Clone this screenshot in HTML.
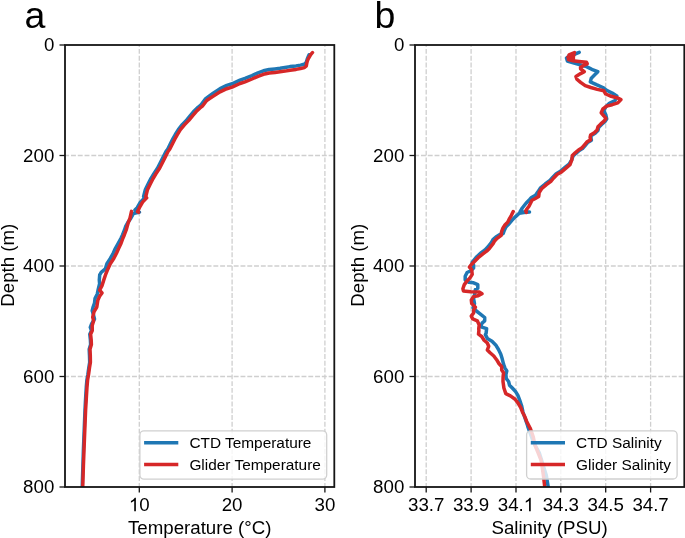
<!DOCTYPE html>
<html><head><meta charset="utf-8"><style>
html,body{margin:0;padding:0;background:#fff;}
svg{display:block;will-change:transform;}
text{font-family:"Liberation Sans",sans-serif;fill:#000;}
</style></head><body>
<svg width="685" height="538" viewBox="0 0 685 538">
<defs>
<clipPath id="ca"><rect x="65" y="45" width="269.3" height="442"/></clipPath>
<clipPath id="cb"><rect x="415" y="45" width="269.3" height="442"/></clipPath>
</defs>
<rect width="685" height="538" fill="#fff"/>
<text x="24.6" y="27.5" font-size="37.5">a</text>
<text x="374.6" y="27.6" font-size="37.5">b</text>
<line x1="139.3" y1="487" x2="139.3" y2="45" stroke="#cfcfcf" stroke-width="1.3" stroke-dasharray="4.9 1.88" stroke-dashoffset="0.78"/>
<line x1="232.1" y1="487" x2="232.1" y2="45" stroke="#cfcfcf" stroke-width="1.3" stroke-dasharray="4.9 1.88" stroke-dashoffset="0.78"/>
<line x1="324.9" y1="487" x2="324.9" y2="45" stroke="#cfcfcf" stroke-width="1.3" stroke-dasharray="4.9 1.88" stroke-dashoffset="0.78"/>
<line x1="65" y1="155.5" x2="334.3" y2="155.5" stroke="#cfcfcf" stroke-width="1.3" stroke-dasharray="4.9 1.88" stroke-dashoffset="0.78"/>
<line x1="65" y1="266.0" x2="334.3" y2="266.0" stroke="#cfcfcf" stroke-width="1.3" stroke-dasharray="4.9 1.88" stroke-dashoffset="0.78"/>
<line x1="65" y1="376.5" x2="334.3" y2="376.5" stroke="#cfcfcf" stroke-width="1.3" stroke-dasharray="4.9 1.88" stroke-dashoffset="0.78"/>
<polyline points="309.1,54.7 308.1,57.0 307.2,59.2 306.5,61.5 305.8,63.0 304.0,64.3 300.5,65.1 296.0,65.9 290.0,66.6 285.0,67.5 280.0,68.3 275.0,68.9 269.2,69.5 263.4,70.8 258.0,72.8 252.0,75.6 245.0,78.4 240.0,80.1 232.1,83.8 226.8,85.4 220.1,88.6 213.2,93.2 209.4,95.9 205.7,98.6 200.7,105.2 198.0,107.3 194.2,111.0 190.5,115.3 186.8,119.9 182.2,124.6 178.5,129.3 175.3,134.5 173.0,138.6 170.6,143.4 167.8,149.0 166.1,151.2 163.3,156.8 160.4,162.5 157.6,168.0 153.9,173.6 151.0,178.4 148.2,183.9 145.4,189.5 143.6,196.5 144.5,197.9 140.4,202.1 137.2,207.7 135.0,210.0 139.4,212.3 136.5,212.8 133.5,213.5 130.7,218.5 127.8,222.5 125.8,226.0 124.5,230.0 122.5,235.0 121.1,238.0 118.1,243.5 115.3,248.5 113.3,253.0 110.5,258.2 106.9,263.8 105.3,268.9 101.2,272.3 99.7,274.9 99.3,280.1 99.6,283.7 98.2,289.3 97.3,293.9 95.0,298.6 94.5,303.2 93.1,307.0 92.2,310.7 93.6,315.3 94.5,319.0 91.7,323.7 90.3,327.4 91.5,330.6 89.8,334.3 90.4,339.9 90.6,344.5 89.2,349.2 89.5,355.7 89.7,362.2 88.8,367.8 87.9,374.3 86.9,380.0 86.3,387.0 85.8,395.0 85.4,402.0 85.0,410.0 84.4,425.0 83.8,440.0 83.4,450.0 82.9,466.0 82.2,487.5" fill="none" stroke="#1f77b4" stroke-width="3.5" stroke-linejoin="round" stroke-linecap="round" clip-path="url(#ca)"/>
<polyline points="312.5,52.5 310.7,54.7 309.4,56.9 308.1,59.2 307.2,61.4 306.7,63.6 306.3,65.9 304.5,67.6 300.5,68.5 296.0,69.4 290.0,70.2 285.0,71.1 280.0,71.8 275.0,72.4 269.2,73.0 263.4,74.3 258.0,76.3 252.0,79.0 245.0,81.8 240.0,83.5 232.1,87.1 226.8,88.7 220.1,91.8 213.4,96.1 210.0,98.3 206.7,100.5 202.7,105.8 200.0,107.9 196.2,111.6 192.5,115.8 188.8,120.4 184.2,125.1 180.4,129.7 177.2,134.9 174.9,139.0 172.5,143.7 169.7,149.3 168.0,151.5 165.2,157.1 162.4,162.7 159.6,168.2 155.9,173.8 153.1,178.5 150.3,184.0 147.5,189.6 145.8,196.5 146.7,197.9 142.6,202.1 139.4,207.7 137.5,211.8 138.5,212.3" fill="none" stroke="#d62728" stroke-width="3.5" stroke-linejoin="round" stroke-linecap="round" clip-path="url(#ca)"/>
<polyline points="131.5,211.4 130.6,215.5 129.9,218.5 128.3,222.5 127.3,226.0 126.2,230.0 124.3,235.0 123.0,238.0 121.0,243.5 118.6,248.5 116.6,253.0 113.9,258.2 110.3,263.8 107.7,269.4 105.8,274.0 103.9,279.6 102.0,285.6 99.6,290.2 102.0,293.0 99.6,296.3 97.8,300.4 96.8,307.0 94.1,311.6 92.7,317.2 93.6,320.9 92.2,325.5 92.3,330.6 90.6,334.3 91.2,339.9 91.4,344.5 90.0,349.2 90.3,355.7 90.4,362.2 89.5,367.8 88.6,374.3 87.6,380.0 87.0,387.0 86.5,395.0 86.1,402.0 85.6,410.0 85.0,425.0 84.4,440.0 84.0,450.0 83.4,466.0 82.7,487.5" fill="none" stroke="#d62728" stroke-width="3.5" stroke-linejoin="round" stroke-linecap="round" clip-path="url(#ca)"/>
<rect x="139.9" y="430.9" width="186.8" height="48.2" rx="4" ry="4" fill="#ffffff" fill-opacity="0.8" stroke="#d0d0d0" stroke-width="1.3"/>
<line x1="144.1" y1="442.8" x2="178.3" y2="442.8" stroke="#1f77b4" stroke-width="3.5"/>
<text x="189.4" y="448.3" font-size="15.4">CTD Temperature</text>
<line x1="144.1" y1="464.5" x2="178.3" y2="464.5" stroke="#d62728" stroke-width="3.5"/>
<text x="189.4" y="470.0" font-size="15.4">Glider Temperature</text>
<rect x="65" y="45" width="269.3" height="442" fill="none" stroke="#151515" stroke-width="1.8"/>
<line x1="139.3" y1="487" x2="139.3" y2="492.5" stroke="#151515" stroke-width="1.3"/>
<path d="M135.87,511.20 L134.23,511.20 L134.23,500.73 C133.83,501.10 133.31,501.48 132.67,501.85 C132.03,502.23 131.45,502.51 130.94,502.70 L130.94,501.11 C131.86,500.68 132.66,500.16 133.34,499.54 C134.03,498.93 134.51,498.34 134.80,497.77 L135.87,497.77 Z" fill="#000"/>
<text x="139.30" y="511.2" font-size="18.7">0</text>
<line x1="232.1" y1="487" x2="232.1" y2="492.5" stroke="#151515" stroke-width="1.3"/>
<text x="221.70" y="511.2" font-size="18.7">20</text>
<line x1="324.9" y1="487" x2="324.9" y2="492.5" stroke="#151515" stroke-width="1.3"/>
<text x="314.50" y="511.2" font-size="18.7">30</text>
<line x1="59.5" y1="45.0" x2="65" y2="45.0" stroke="#151515" stroke-width="1.3"/>
<text x="54.3" y="51.1" font-size="18.7" text-anchor="end">0</text>
<line x1="59.5" y1="155.5" x2="65" y2="155.5" stroke="#151515" stroke-width="1.3"/>
<text x="54.3" y="161.6" font-size="18.7" text-anchor="end">200</text>
<line x1="59.5" y1="266.0" x2="65" y2="266.0" stroke="#151515" stroke-width="1.3"/>
<text x="54.3" y="272.1" font-size="18.7" text-anchor="end">400</text>
<line x1="59.5" y1="376.5" x2="65" y2="376.5" stroke="#151515" stroke-width="1.3"/>
<text x="54.3" y="382.6" font-size="18.7" text-anchor="end">600</text>
<line x1="59.5" y1="487.0" x2="65" y2="487.0" stroke="#151515" stroke-width="1.3"/>
<text x="54.3" y="493.1" font-size="18.7" text-anchor="end">800</text>
<line x1="426.2" y1="487" x2="426.2" y2="45" stroke="#cfcfcf" stroke-width="1.3" stroke-dasharray="4.9 1.88" stroke-dashoffset="0.78"/>
<line x1="471.1" y1="487" x2="471.1" y2="45" stroke="#cfcfcf" stroke-width="1.3" stroke-dasharray="4.9 1.88" stroke-dashoffset="0.78"/>
<line x1="516.0" y1="487" x2="516.0" y2="45" stroke="#cfcfcf" stroke-width="1.3" stroke-dasharray="4.9 1.88" stroke-dashoffset="0.78"/>
<line x1="560.8" y1="487" x2="560.8" y2="45" stroke="#cfcfcf" stroke-width="1.3" stroke-dasharray="4.9 1.88" stroke-dashoffset="0.78"/>
<line x1="605.7" y1="487" x2="605.7" y2="45" stroke="#cfcfcf" stroke-width="1.3" stroke-dasharray="4.9 1.88" stroke-dashoffset="0.78"/>
<line x1="650.6" y1="487" x2="650.6" y2="45" stroke="#cfcfcf" stroke-width="1.3" stroke-dasharray="4.9 1.88" stroke-dashoffset="0.78"/>
<line x1="415" y1="155.5" x2="684.3" y2="155.5" stroke="#cfcfcf" stroke-width="1.3" stroke-dasharray="4.9 1.88" stroke-dashoffset="0.78"/>
<line x1="415" y1="266.0" x2="684.3" y2="266.0" stroke="#cfcfcf" stroke-width="1.3" stroke-dasharray="4.9 1.88" stroke-dashoffset="0.78"/>
<line x1="415" y1="376.5" x2="684.3" y2="376.5" stroke="#cfcfcf" stroke-width="1.3" stroke-dasharray="4.9 1.88" stroke-dashoffset="0.78"/>
<polyline points="579.2,52.4 575.0,54.0 569.5,55.5 566.5,58.0 567.4,61.0 572.4,62.6 577.6,64.1 581.8,65.2 585.4,66.2 590.0,68.3 591.7,69.4 597.8,71.7 594.5,75.0 591.3,78.2 590.3,81.9 596.4,84.7 602.9,87.5 606.6,90.3 612.2,93.1 616.8,95.9 615.0,100.5 609.4,103.3 605.7,107.0 603.8,110.8 605.7,114.5 606.7,118.9 604.8,121.7 601.6,124.4 598.8,127.2 597.9,130.5 595.1,133.3 591.4,135.6 590.9,137.9 591.4,140.2 587.6,142.6 584.9,145.8 582.5,148.6 579.3,150.5 576.0,153.3 573.1,155.9 571.7,159.8 569.1,164.1 564.7,167.7 560.4,171.3 556.2,173.7 552.6,177.4 550.0,180.4 545.2,184.0 540.3,188.2 537.9,191.9 535.5,195.2 531.5,197.5 529.7,199.5 526.0,203.2 522.3,208.0 520.1,211.7 524.5,211.9 529.5,211.9 524.0,212.6 519.3,213.2 515.6,216.6 511.9,220.3 508.9,224.0 505.9,227.0 504.5,230.0 503.2,233.5 499.9,234.5 495.9,237.0 493.0,239.6 491.5,242.4 487.8,247.1 485.0,249.9 481.3,252.6 476.8,256.7 472.2,262.3 473.6,265.1 473.6,267.9 470.8,270.7 467.1,272.5 465.2,276.2 465.2,280.0 468.9,282.3 473.6,282.8 477.8,284.6 477.8,288.3 475.4,289.6 474.5,295.2 473.6,298.9 474.5,303.6 473.1,307.8 476.4,311.0 480.1,313.8 484.7,317.5 484.7,320.8 482.0,323.1 481.0,326.8 486.6,328.7 486.1,333.3 485.4,334.6 487.3,338.4 492.0,341.2 495.7,344.9 498.5,349.5 500.8,354.2 502.2,358.8 503.6,364.4 505.0,368.1 506.8,370.9 505.9,374.6 506.3,378.7 508.6,381.5 509.5,385.2 512.3,388.0 515.6,391.7 517.9,395.4 519.7,400.1 521.6,405.7 523.0,412.2 524.9,417.8 527.2,424.3 528.1,427.5 533.7,442.9 539.2,452.6 542.7,463.7 546.2,474.9 548.3,487.5" fill="none" stroke="#1f77b4" stroke-width="3.5" stroke-linejoin="round" stroke-linecap="round" clip-path="url(#cb)"/>
<polyline points="574.5,52.6 569.0,54.8 574.0,55.4 567.9,57.2 573.5,58.0 568.3,59.6 573.0,60.8 579.0,61.4 586.5,62.3 587.3,63.8 583.5,65.5 580.5,67.5 580.6,68.9 584.3,71.7 580.6,73.6 575.9,76.4 576.9,79.2 580.6,82.4 585.2,85.7 590.8,87.5 597.3,89.4 603.8,90.8 605.7,94.0 611.2,96.3 616.8,97.7 621.0,99.6 617.8,102.9 612.2,104.7 606.6,106.1 602.9,108.9 601.2,112.8 604.0,116.0 605.9,118.4 604.0,121.2 600.8,123.9 598.0,126.7 597.1,130.0 594.3,132.8 590.6,135.1 590.1,137.4 590.6,139.7 586.8,142.1 584.1,145.3 581.7,148.1 578.5,150.0 575.2,152.8 572.4,155.5 571.8,159.8 570.0,164.7 565.7,168.3 561.5,171.9 557.3,174.3 553.7,178.0 551.2,181.0 546.4,184.6 541.6,188.8 539.2,192.5 538.7,196.5 534.9,198.7 532.0,200.2 530.5,203.2 529.0,206.2 527.1,208.8 525.7,211.0 526.4,212.5" fill="none" stroke="#d62728" stroke-width="3.5" stroke-linejoin="round" stroke-linecap="round" clip-path="url(#cb)"/>
<polyline points="513.2,211.6 511.4,215.3 509.5,218.6 507.7,222.3 504.9,225.1 503.0,227.9 501.6,231.6 501.2,235.3 497.4,238.1 494.6,240.9 493.1,243.7 489.4,248.4 486.6,251.2 482.9,253.9 478.2,257.7 474.5,261.4 471.7,264.2 469.4,267.0 471.7,269.7 472.2,274.4 469.9,278.1 467.1,280.9 464.3,284.6 462.9,288.7 463.4,291.0 470.8,291.7 479.2,292.0 482.0,293.8 478.2,295.7 473.6,296.6 471.3,299.9 471.7,303.6 475.4,307.3 473.6,310.1 473.6,312.9 471.3,316.1 472.7,318.9 477.3,320.8 479.2,325.0 478.7,328.7 478.9,330.5 478.5,334.2 481.7,336.5 484.1,340.2 487.3,343.0 488.7,346.3 487.3,350.0 490.1,352.8 493.8,356.0 496.6,359.7 498.9,363.5 501.7,366.7 501.7,370.0 503.6,372.8 503.1,376.5 503.0,381.5 503.9,388.0 505.8,393.6 510.4,395.9 515.1,399.2 517.9,402.9 520.7,407.5 522.5,412.2 524.9,416.8 526.7,421.5 530.2,428.2 531.6,432.0 533.3,437.1 535.1,445.5 538.1,452.8 541.0,460.0 542.4,468.5 543.6,477.0 544.8,487.5" fill="none" stroke="#d62728" stroke-width="3.5" stroke-linejoin="round" stroke-linecap="round" clip-path="url(#cb)"/>
<rect x="526.6" y="430.8" width="150.5" height="48.2" rx="4" ry="4" fill="#ffffff" fill-opacity="0.8" stroke="#d0d0d0" stroke-width="1.3"/>
<line x1="530.8" y1="442.7" x2="565.0" y2="442.7" stroke="#1f77b4" stroke-width="3.5"/>
<text x="576.1" y="448.2" font-size="15.4">CTD Salinity</text>
<line x1="530.8" y1="464.4" x2="565.0" y2="464.4" stroke="#d62728" stroke-width="3.5"/>
<text x="576.1" y="469.9" font-size="15.4">Glider Salinity</text>
<rect x="415" y="45" width="269.3" height="442" fill="none" stroke="#151515" stroke-width="1.8"/>
<line x1="426.2" y1="487" x2="426.2" y2="492.5" stroke="#151515" stroke-width="1.3"/>
<text x="408.00" y="511.2" font-size="18.7">33.7</text>
<line x1="471.1" y1="487" x2="471.1" y2="492.5" stroke="#151515" stroke-width="1.3"/>
<text x="452.88" y="511.2" font-size="18.7">33.9</text>
<line x1="516.0" y1="487" x2="516.0" y2="492.5" stroke="#151515" stroke-width="1.3"/>
<text x="497.76" y="511.2" font-size="18.7">34.</text>
<path d="M530.73,511.20 L529.08,511.20 L529.08,500.73 C528.69,501.10 528.17,501.48 527.52,501.85 C526.88,502.23 526.30,502.51 525.79,502.70 L525.79,501.11 C526.71,500.68 527.51,500.16 528.20,499.54 C528.89,498.93 529.37,498.34 529.65,497.77 L530.73,497.77 Z" fill="#000"/>
<line x1="560.8" y1="487" x2="560.8" y2="492.5" stroke="#151515" stroke-width="1.3"/>
<text x="542.64" y="511.2" font-size="18.7">34.3</text>
<line x1="605.7" y1="487" x2="605.7" y2="492.5" stroke="#151515" stroke-width="1.3"/>
<text x="587.52" y="511.2" font-size="18.7">34.5</text>
<line x1="650.6" y1="487" x2="650.6" y2="492.5" stroke="#151515" stroke-width="1.3"/>
<text x="632.40" y="511.2" font-size="18.7">34.7</text>
<line x1="409.5" y1="45.0" x2="415" y2="45.0" stroke="#151515" stroke-width="1.3"/>
<text x="404.3" y="51.1" font-size="18.7" text-anchor="end">0</text>
<line x1="409.5" y1="155.5" x2="415" y2="155.5" stroke="#151515" stroke-width="1.3"/>
<text x="404.3" y="161.6" font-size="18.7" text-anchor="end">200</text>
<line x1="409.5" y1="266.0" x2="415" y2="266.0" stroke="#151515" stroke-width="1.3"/>
<text x="404.3" y="272.1" font-size="18.7" text-anchor="end">400</text>
<line x1="409.5" y1="376.5" x2="415" y2="376.5" stroke="#151515" stroke-width="1.3"/>
<text x="404.3" y="382.6" font-size="18.7" text-anchor="end">600</text>
<line x1="409.5" y1="487.0" x2="415" y2="487.0" stroke="#151515" stroke-width="1.3"/>
<text x="404.3" y="493.1" font-size="18.7" text-anchor="end">800</text>
<text transform="translate(13.8,265.2) rotate(-90)" font-size="18.7" text-anchor="middle">Depth (m)</text>
<text transform="translate(363.8,265.2) rotate(-90)" font-size="18.7" text-anchor="middle">Depth (m)</text>
<text x="199.7" y="534.1" font-size="18.7" text-anchor="middle">Temperature (°C)</text>
<text x="549.6" y="534.1" font-size="18.7" text-anchor="middle">Salinity (PSU)</text>
</svg>
</body></html>
